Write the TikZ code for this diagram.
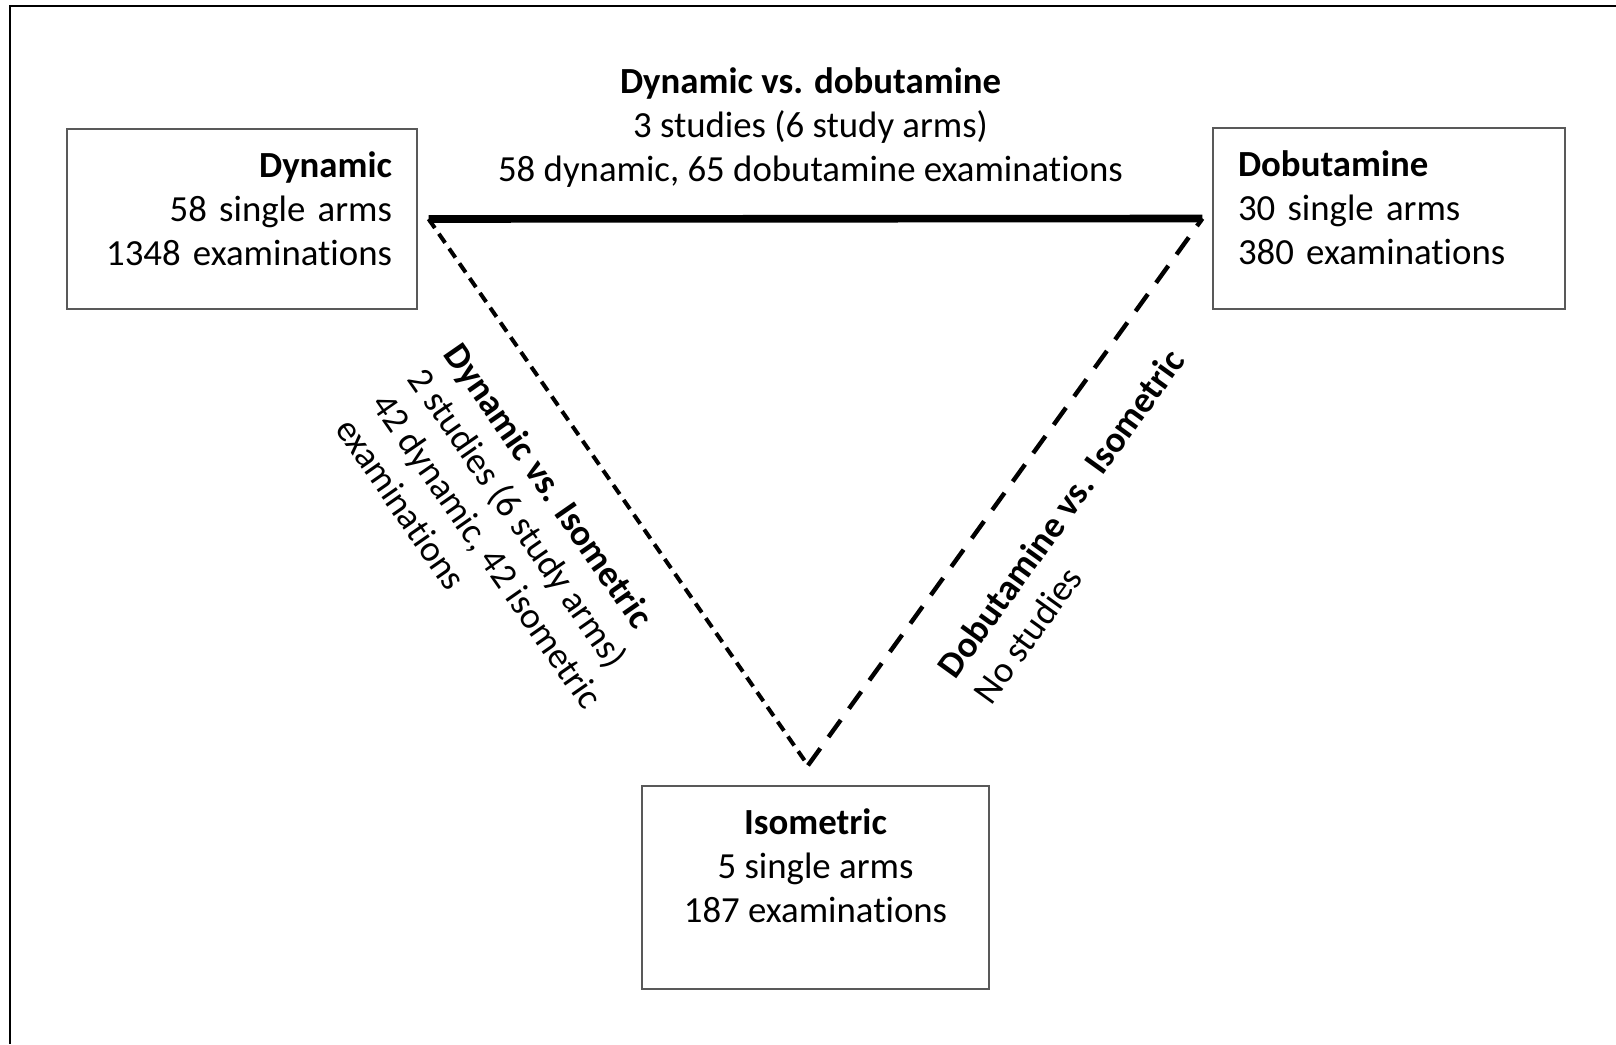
\documentclass[tikz,border=0pt]{standalone}
\usepackage{fontspec}
\setmainfont{Carlito}[Ligatures=NoCommon]

\tikzset{
  armbox/.style={draw=black!65, line width=0.6pt, font=\fontsize{18.4}{22}\selectfont, inner xsep=12.5pt},
  direct/.style={line width=3.8pt},
  indirect/.style={line width=2pt, dash pattern=on 5.5pt off 3.5pt},
  noedge/.style={line width=2.2pt, dash pattern=on 10.5pt off 7pt},
  edgelabel/.style={font=\fontsize{18.4}{22}\selectfont, inner sep=0pt}
}
% lift a block of lines without changing the box size
\newcommand{\lift}[3]{\raisebox{#1}[\height][\depth]{\begin{tabular}{@{}#2@{}}#3\end{tabular}}}

\begin{document}
\begin{tikzpicture}[x=0.5pt,y=-0.5pt]
\useasboundingbox (0,0) rectangle (1616,1044);
\draw[line width=1pt] (1616,5.5) -- (10,5.5) -- (10,1044);

% the three arms
\node[armbox, text width=150pt, align=right, minimum height=90pt] (dyn) at (242,219)
  {\lift{3.3pt}{r}{\textbf{Dynamic}\\58 single arms\\1348 examinations}};
\node[armbox, text width=151pt, align=left, minimum height=90.5pt] (dob) at (1389,218.5)
  {\lift{3.5pt}{l}{\textbf{Dobutamine}\\30 single arms\\380 examinations}};
\node[armbox, minimum width=173.5pt, minimum height=101.5pt] (iso) at (815.5,887.5)
  {\lift{9pt}{c}{\textbf{Isometric}\\5 single arms\\187 examinations}};

\coordinate (dynend) at ([xshift=5.5pt]dyn.east);
\coordinate (dobend) at ([xshift=-5pt]dob.west);
\coordinate (apex) at ([shift={(-3.75pt,10pt)}]iso.north);

% comparisons
\draw[direct] (dynend) -- node[edgelabel, midway, above=14pt, xshift=-2.5pt, align=center] (dyndob)
  {\textbf{Dynamic vs. dobutamine}\\3 studies (6 study arms)\\58 dynamic, 65 dobutamine examinations} (dobend);
\draw[indirect] (dynend) -- node[edgelabel, sloped, pos=0.176, anchor=north west, yshift=-18.75pt, align=left] (dyniso)
  {\textbf{Dynamic vs. Isometric}\\2 studies (6 study arms)\\42 dynamic, 42 isometric\\examinations} (apex);
\draw[noedge] (apex) -- node[edgelabel, sloped, pos=0.227, anchor=north west, yshift=-21pt, align=left] (dobiso)
  {\textbf{Dobutamine vs. Isometric}\\No studies} (dobend);
\end{tikzpicture}
\end{document}
